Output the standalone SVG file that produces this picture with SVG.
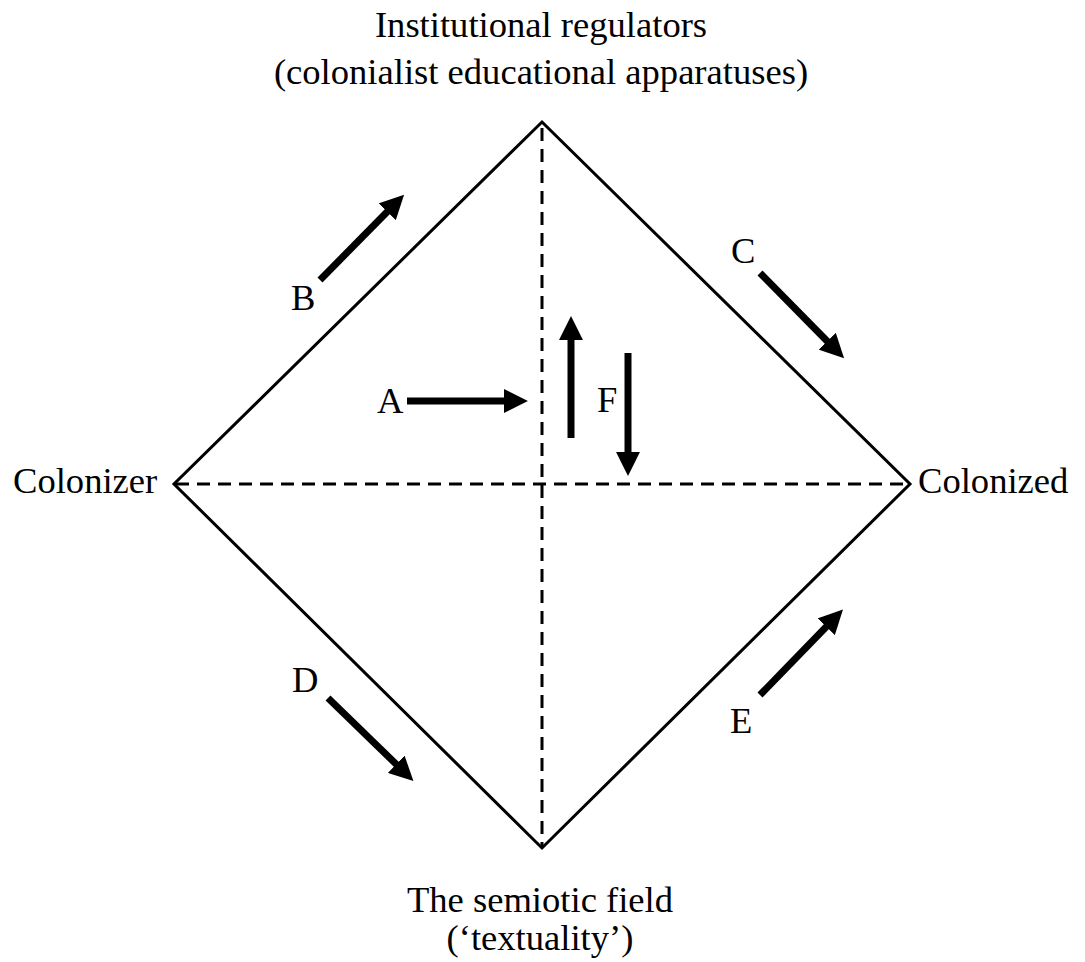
<svg xmlns="http://www.w3.org/2000/svg" width="1085" height="962" viewBox="0 0 1085 962">
<style>
.lbl{font-family:"Liberation Serif","Times New Roman",serif;font-size:36.6px;fill:#000}
.edge{stroke:#000;stroke-width:3;fill:none}
.dash{stroke:#000;stroke-width:3;fill:none;stroke-dasharray:13 8}
.arr{stroke:#000;stroke-width:7;fill:none;marker-end:url(#head)}
</style>
<defs>
<marker id="head" markerUnits="userSpaceOnUse" markerWidth="24" markerHeight="24" refX="1" refY="11" orient="auto" viewBox="0 0 22 22">
<path d="M0,0 L22,11 L0,22 Z" fill="#000"/>
</marker>
</defs>
<rect width="1085" height="962" fill="#fff"/>
<g id="connectors">
<polygon class="edge" points="542,122 910,484 542,848 174,484"/>
<line class="dash" x1="542" y1="128" x2="542" y2="846"/>
<line class="dash" x1="176" y1="484" x2="908" y2="484"/>
<line class="arr" x1="320" y1="280" x2="388" y2="211"/>
<line class="arr" x1="760" y1="273" x2="828" y2="342"/>
<line class="arr" x1="328" y1="698" x2="397" y2="765"/>
<line class="arr" x1="760" y1="695" x2="827" y2="626"/>
<line class="arr" x1="407" y1="401" x2="505" y2="401"/>
<line class="arr" x1="571" y1="438" x2="571" y2="339"/>
<line class="arr" x1="628" y1="353" x2="628" y2="453"/>
</g>
<g id="top"><text class="lbl" x="541" y="37" text-anchor="middle">Institutional regulators</text>
<text class="lbl" x="541" y="84" text-anchor="middle">(colonialist educational apparatuses)</text></g>
<g id="bottom"><text class="lbl" x="540" y="912" text-anchor="middle">The semiotic field</text>
<text class="lbl" x="540" y="950" text-anchor="middle">(‘textuality’)</text></g>
<g id="colonizer"><text class="lbl" x="13" y="493">Colonizer</text></g>
<g id="colonized"><text class="lbl" x="918" y="493">Colonized</text></g>
<g id="labels">
<text class="lbl" x="377" y="413">A</text>
<text class="lbl" x="291" y="310">B</text>
<text class="lbl" x="731" y="263">C</text>
<text class="lbl" x="292" y="692">D</text>
<text class="lbl" x="730" y="733">E</text>
<text class="lbl" x="597" y="412">F</text>
</g>
</svg>
